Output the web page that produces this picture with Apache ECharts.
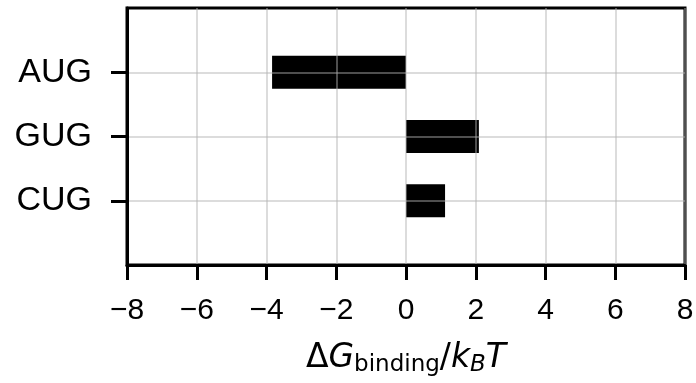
<!DOCTYPE html>
<html>
<head>
<meta charset="utf-8">
<script src="https://cdn.jsdelivr.net/npm/echarts@6/dist/echarts.min.js"></script>
<style>
html,body{margin:0;padding:0;background:#fff;}
#chart{width:696px;height:383px;}
</style>
</head>
<body>
<div id="chart"></div>
<script>
// padded with empty slots so the three codons sit like matplotlib's ylim(-1, 3)
var categories = ['', 'AUG', 'GUG', 'CUG', ''];
var dG = [null, -3.84, 2.09, 1.12, null];
var xTicks = [-8, -6, -4, -2, 0, 2, 4, 6, 8];

var font = 'Liberation Sans';
var mathFont = 'DejaVu Sans';
var gridLine = 'rgba(176,176,176,0.6)';

var chart = echarts.init(document.getElementById('chart'));
chart.setOption({
    animation: false,
    backgroundColor: '#fff',
    grid: {
        left: 127, right: 11, top: 8, bottom: 118,
        outerBoundsMode: 'none',
        containLabel: false,
        show: true, borderColor: '#000', borderWidth: 3
    },
    xAxis: {
        type: 'value',
        min: xTicks[0], max: xTicks[xTicks.length - 1], interval: 2,
        z: 5,
        axisLine: {show: true, onZero: false, lineStyle: {color: '#000', width: 3}},
        axisTick: {show: true, length: 15, lineStyle: {color: '#000', width: 3}},
        axisLabel: {
            color: '#000', fontSize: 30, fontFamily: font, margin: 31,
            formatter: function (v) { return v < 0 ? '\u2212' + (-v) : '' + v; }
        },
        splitLine: {show: true, lineStyle: {color: gridLine, width: 1.5}},
        name: '{n|\u0394}{i|G}{s|binding}{n|/}{i|k}{si|B}{i|T}',
        nameLocation: 'middle',
        nameGap: 74,
        nameTextStyle: {
            rich: {
                n: {fontSize: 33, fontFamily: mathFont, color: '#000'},
                i: {fontSize: 33, fontFamily: mathFont, fontStyle: 'italic', color: '#000'},
                s: {fontSize: 23, fontFamily: mathFont, color: '#000', padding: [15, 0, 0, 0]},
                si: {fontSize: 23, fontFamily: mathFont, fontStyle: 'italic', color: '#000', padding: [15, 0, 0, 0]}
            }
        }
    },
    yAxis: {
        type: 'category',
        data: categories,
        inverse: true,
        boundaryGap: false,
        z: 5,
        axisLine: {show: true, onZero: false, lineStyle: {color: '#000', width: 3}},
        axisTick: {
            show: true, length: 16, alignWithLabel: true,
            interval: function (i, v) { return v !== ''; },
            lineStyle: {color: '#000', width: 3}
        },
        axisLabel: {
            color: '#000', fontSize: 34, fontFamily: font, margin: 35,
            interval: function (i, v) { return v !== ''; }
        },
        splitLine: {show: true, lineStyle: {color: gridLine, width: 1.5}}
    },
    series: [{
        type: 'bar',
        data: dG,
        barWidth: 33,
        itemStyle: {color: '#000'},
        z: 2
    }]
});
</script>
</body>
</html>
